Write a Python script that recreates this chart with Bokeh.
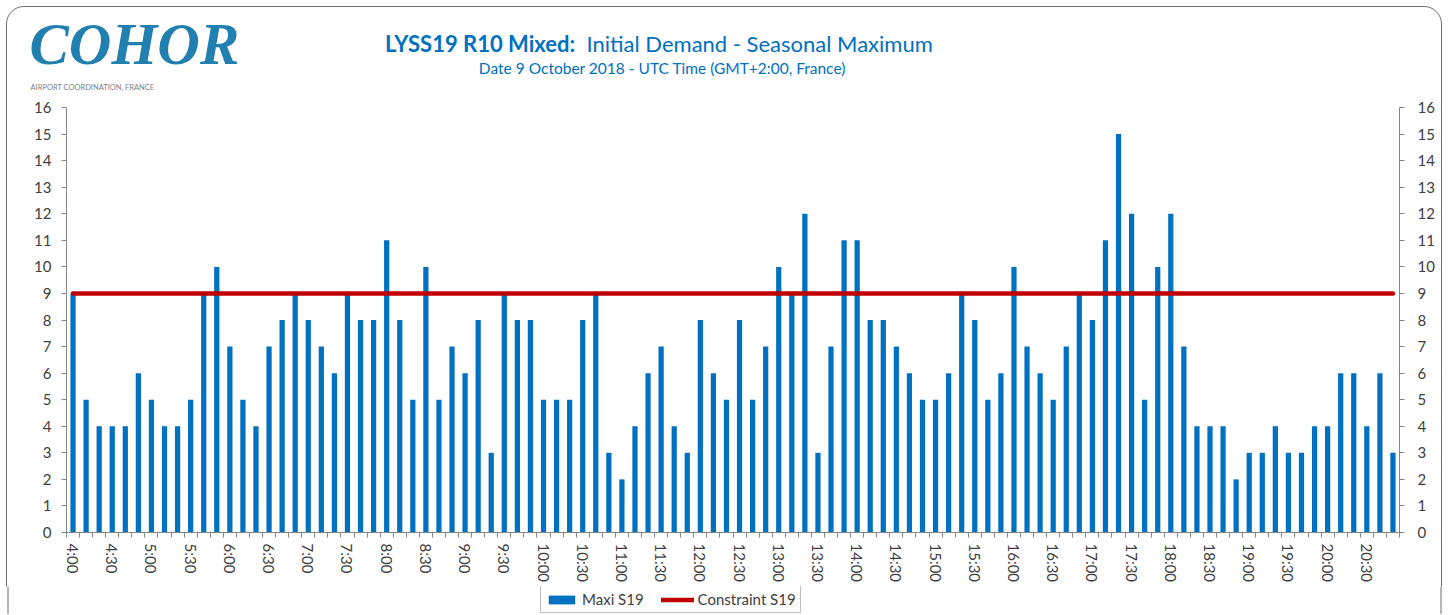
from bokeh.plotting import figure
from bokeh.models import (FixedTicker, LinearAxis, Range1d, Legend, LegendItem,
                          ColumnDataSource, Span)
from bokeh.layouts import column
from bokeh.core.properties import value
from bokeh.embed import file_html
from bokeh.resources import INLINE

# ---------------- data ----------------
slots = [
    "4:00", "4:10", "4:20", "4:30", "4:40", "4:50",
    "5:00", "5:10", "5:20", "5:30", "5:40", "5:50",
    "6:00", "6:10", "6:20", "6:30", "6:40", "6:50",
    "7:00", "7:10", "7:20", "7:30", "7:40", "7:50",
    "8:00", "8:10", "8:20", "8:30", "8:40", "8:50",
    "9:00", "9:10", "9:20", "9:30", "9:40", "9:50",
    "10:00", "10:10", "10:20", "10:30", "10:40", "10:50",
    "11:00", "11:10", "11:20", "11:30", "11:40", "11:50",
    "12:00", "12:10", "12:20", "12:30", "12:40", "12:50",
    "13:00", "13:10", "13:20", "13:30", "13:40", "13:50",
    "14:00", "14:10", "14:20", "14:30", "14:40", "14:50",
    "15:00", "15:10", "15:20", "15:30", "15:40", "15:50",
    "16:00", "16:10", "16:20", "16:30", "16:40", "16:50",
    "17:00", "17:10", "17:20", "17:30", "17:40", "17:50",
    "18:00", "18:10", "18:20", "18:30", "18:40", "18:50",
    "19:00", "19:10", "19:20", "19:30", "19:40", "19:50",
    "20:00", "20:10", "20:20", "20:30", "20:40", "20:50",
]

maxi_s19 = [
    9, 5, 4, 4, 4, 6,
    5, 4, 4, 5, 9, 10,
    7, 5, 4, 7, 8, 9,
    8, 7, 6, 9, 8, 8,
    11, 8, 5, 10, 5, 7,
    6, 8, 3, 9, 8, 8,
    5, 5, 5, 8, 9, 3,
    2, 4, 6, 7, 4, 3,
    8, 6, 5, 8, 5, 7,
    10, 9, 12, 3, 7, 11,
    11, 8, 8, 7, 6, 5,
    5, 6, 9, 8, 5, 6,
    10, 7, 6, 5, 7, 9,
    8, 11, 15, 12, 5, 10,
    12, 7, 4, 4, 4, 2,
    3, 3, 4, 3, 3, 4,
    4, 6, 6, 4, 6, 3,
]

constraint_value = 9
constraint_s19 = [constraint_value] * len(slots)

x_tick_labels = [
    "4:00", "4:30", "5:00", "5:30", "6:00", "6:30", "7:00", "7:30", "8:00", "8:30",
    "9:00", "9:30", "10:00", "10:30", "11:00", "11:30", "12:00", "12:30", "13:00",
    "13:30", "14:00", "14:30", "15:00", "15:30", "16:00", "16:30", "17:00", "17:30",
    "18:00", "18:30", "19:00", "19:30", "20:00", "20:30",
]
y_ticks = list(range(0, 17))

title_bold = "LYSS19 R10  Mixed:"
title_rest = "Initial Demand - Seasonal Maximum"
subtitle = "Date 9 October 2018 - UTC Time (GMT+2:00, France)"
logo_text = "COHOR"
logo_sub = "AIRPORT COORDINATION, FRANCE"

# ---------------- styling / layout ----------------
FONT = "Lato"
AX_COLOR = "#868686"
TXT_COLOR = "#404040"
BLUE = "#0070C0"
EDGE = "#6f6f6f"
W = 1448
FRAME_L, FRAME_R = 66, 1399          # page x of the plot frame
HEAD_H = 92                           # page y 0..92
MAIN_TOP = 15                         # frame top at page y 107
MAIN_H = MAIN_TOP + 425 + 54          # page y 92..586
FOOT_H = 28                           # page y 586..614


def no_align(f):
    if "frame_align" in f.properties():
        f.frame_align = False


# ---------------- header (logo + titles), data coords = page pixels ----------------
head = figure(width=W, height=HEAD_H, output_backend="svg", toolbar_location=None,
              x_range=Range1d(0, W), y_range=Range1d(HEAD_H, 0),
              x_axis_location=None, y_axis_location=None, min_border=0,
              outline_line_color=None, background_fill_alpha=0, border_fill_alpha=0)
head.grid.visible = False
no_align(head)


def htext(x, y, txt, size, color, font=FONT, style="normal", align="left"):
    head.text(x=[x], y=[y], text=[txt], text_font=value(font),
              text_font_size=value(size), text_font_style=style,
              text_color=color, text_align=align, text_baseline="middle")


htext(580, 43, title_bold, "22px", BLUE, style="bold", align="right")
htext(586, 43, title_rest, "22px", BLUE)
htext(662, 67, subtitle, "15.5px", BLUE, align="center")
htext(29, 43, logo_text, "59px", "#2280B0", font="Liberation Serif", style="bold italic")
htext(30, 87, logo_sub, "7.5px", "#7f7f7f")

# ---------------- main chart ----------------
idx = list(range(len(slots)))
src = ColumnDataSource(dict(x=idx, slot=slots, maxi=maxi_s19, cons=constraint_s19))

p = figure(width=W, height=MAIN_H, output_backend="svg", toolbar_location=None,
           x_range=Range1d(-0.5, len(slots) - 0.5), y_range=Range1d(0, 16),
           min_border_left=FRAME_L, min_border_right=W - FRAME_R,
           min_border_top=MAIN_TOP, min_border_bottom=MAIN_H - MAIN_TOP - 425,
           outline_line_color=None, background_fill_alpha=0, border_fill_alpha=0)
p.grid.visible = False

bars = p.vbar(x="x", top="maxi", width=0.4, source=src,
              fill_color=BLUE, line_color=None)
line = p.line(x="x", y="cons", source=src, line_color="#C00000",
              line_width=4.5, line_cap="round")

# x axis: labels at category centres, tick marks at category boundaries
label_pos = [slots.index(t) for t in x_tick_labels]
xa = p.xaxis[0]
xa.ticker = FixedTicker(ticks=label_pos,
                        minor_ticks=[i - 0.5 for i in range(len(slots) + 1)])
xa.major_label_overrides = {i: slots[i] for i in label_pos}
xa.major_tick_out = 0
xa.major_tick_in = 0
xa.minor_tick_out = 5
xa.minor_tick_in = 0
xa.minor_tick_line_color = AX_COLOR
xa.axis_line_color = AX_COLOR
xa.major_label_orientation = "vertical"
xa.major_label_standoff = 6
xa.major_label_text_font = FONT
xa.major_label_text_font_size = "15px"
xa.major_label_text_color = TXT_COLOR

ya = p.yaxis[0]
ra = LinearAxis()
p.add_layout(ra, "right")
for ax, standoff in ((ya, 10), (ra, 13)):
    ax.ticker = FixedTicker(ticks=y_ticks)
    ax.major_tick_out = 5
    ax.major_tick_in = 0
    ax.minor_tick_line_color = None
    ax.axis_line_color = AX_COLOR
    ax.major_tick_line_color = AX_COLOR
    ax.major_label_standoff = standoff
    ax.major_label_text_font = FONT
    ax.major_label_text_font_size = "15px"
    ax.major_label_text_color = TXT_COLOR

# ---------------- footer legend ----------------
foot = figure(width=W, height=FOOT_H, output_backend="svg", toolbar_location=None,
              x_range=Range1d(0, 1), y_range=Range1d(0, 1),
              x_axis_location=None, y_axis_location=None, min_border=0,
              outline_line_color=None, background_fill_color="white",
              border_fill_color="white")
foot.grid.visible = False
no_align(foot)
# side edges of the chart border continue through the footer (bottom edge is off-picture)
for loc in (7.5, W - 7.5):
    foot.add_layout(Span(location=loc, location_units="screen", dimension="height",
                         line_color=EDGE, line_width=1))
# legend-only renderers (no visible data)
nan = float("nan")
proxy = ColumnDataSource(dict(x=[nan], y=[nan], top=[nan]))
leg_bar = foot.vbar(x="x", top="top", width=0.01, source=proxy, fill_color=BLUE,
                    line_color=None)
leg_line = foot.line(x="x", y="y", source=proxy, line_color="#C00000", line_width=4.5,
                     line_cap="round")
legend = Legend(items=[LegendItem(label="Maxi S19", renderers=[leg_bar]),
                       LegendItem(label="Constraint S19", renderers=[leg_line])],
                orientation="horizontal", location=(540, 1),
                glyph_width=33, glyph_height=11, label_standoff=4, spacing=17,
                padding=4, margin=0,
                label_text_font=FONT, label_text_font_size="15px",
                label_text_color=TXT_COLOR, border_line_color="#808080",
                border_line_width=1, background_fill_alpha=1)
foot.add_layout(legend, "center")

layout = column(head, p, foot, spacing=0,
                styles={"outline": "1px solid " + EDGE, "outline-offset": "-7px",
                        "border-radius": "24px"})

open("out.html", "w").write(file_html(layout, INLINE))
